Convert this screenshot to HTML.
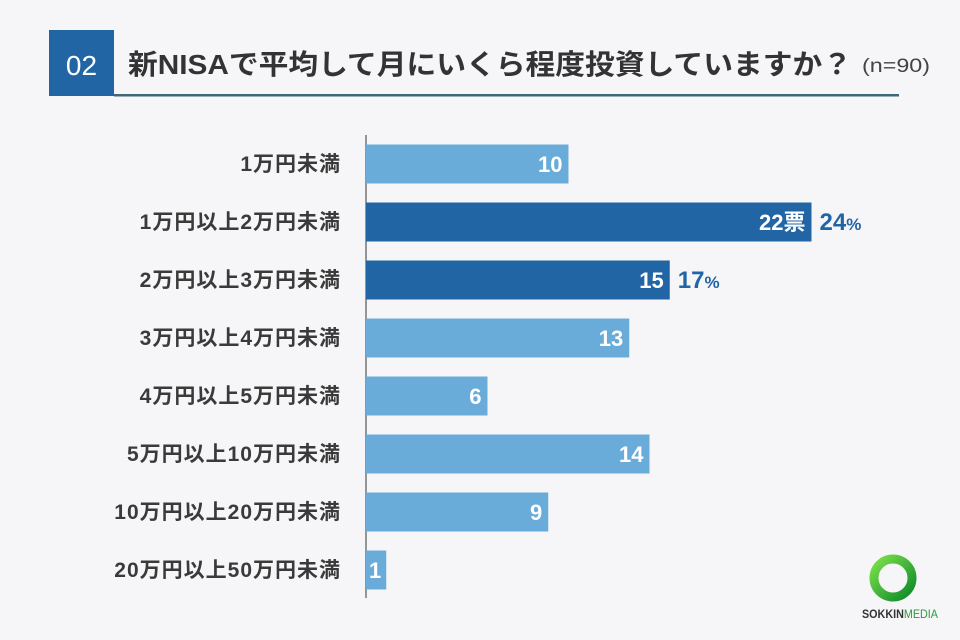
<!DOCTYPE html>
<html><head><meta charset="utf-8"><style>
body{margin:0;background:#f6f6f8;}
#wrap{position:relative;width:960px;height:640px;overflow:hidden;background:#f6f6f8;font-family:"Liberation Sans","Noto Sans CJK JP",sans-serif;}
</style></head><body>
<div id="wrap">
<svg id="svg" width="960" height="640" xmlns="http://www.w3.org/2000/svg">
  <rect x="49" y="30" width="65" height="66" fill="#2265a5"/>
  <text x="81.5" y="75" text-anchor="middle" font-size="28" fill="#fff" font-family="Liberation Sans, Noto Sans CJK JP, sans-serif">02</text>
  <text x="128" y="74" font-size="28" font-weight="bold" fill="#333" font-family="Liberation Sans, Noto Sans CJK JP, sans-serif" textLength="724" lengthAdjust="spacingAndGlyphs">新NISAで平均して月にいくら程度投資していますか？</text>
  <text x="862" y="72" font-size="19" fill="#444" font-family="Liberation Sans, Noto Sans CJK JP, sans-serif" textLength="68" lengthAdjust="spacingAndGlyphs">(n=90)</text>
  <rect x="114" y="94" width="785" height="2.5" fill="#3f6878"/>
  <line x1="366" y1="135" x2="366" y2="598" stroke="#555" stroke-width="1.2"/>
  <g id="bars"></g>
  <g>
    <defs><linearGradient id="lg" x1="0" y1="0" x2="1" y2="1"><stop offset="0" stop-color="#7be04a"/><stop offset="1" stop-color="#0d8a2a"/></linearGradient></defs>
    <circle cx="893" cy="578" r="19" fill="none" stroke="url(#lg)" stroke-width="9"/>
    <text x="862" y="618" font-size="12" font-weight="bold" fill="#333" font-family="Liberation Sans, sans-serif" textLength="76" lengthAdjust="spacingAndGlyphs">SOKKIN<tspan font-weight="normal" fill="#2a9a3a">MEDIA</tspan></text>
  </g>
</svg>
</div>
<script>
const categories=["1万円未満","1万円以上2万円未満","2万円以上3万円未満","3万円以上4万円未満","4万円以上5万円未満","5万円以上10万円未満","10万円以上20万円未満","20万円以上50万円未満"];
const values=[10,22,15,13,6,14,9,1];
const highlight=[false,true,true,false,false,false,false,false];
const percents=["","24","17","","","","",""];
const NS="http://www.w3.org/2000/svg";
const g=document.getElementById('bars');
const x0=366, pxPerUnit=20.25, y0=164, step=58, bh=39;
function xs(v){return x0+v*pxPerUnit;}
function ys(i){return y0+i*step;}
function mk(tag,attrs,txt){const e=document.createElementNS(NS,tag);for(const k in attrs)e.setAttribute(k,attrs[k]);if(txt!==undefined)e.textContent=txt;g.appendChild(e);return e;}
const FF="Liberation Sans, Noto Sans CJK JP, sans-serif";
categories.forEach((c,i)=>{
  const cy=ys(i);
  const lab=mk('text',{x:341,y:cy+7,'text-anchor':'end','font-size':21,'font-weight':'bold',fill:'#3a3a3a','letter-spacing':1,'font-family':FF},c);
  
  
  const r=mk('rect',{x:x0,y:cy-bh/2,width:xs(values[i])-x0,height:bh,fill:highlight[i]?'#2265a5':'#6aacd9'});
  
  
  const vt=mk('text',{x:xs(values[i])-(values[i]<2?5:6),y:cy+8,'text-anchor':'end','font-size':22,'font-weight':'bold',fill:'#fff','font-family':FF},values[i]+(i===1?'票':''));
  
  
  if(percents[i]){
    const pt=mk('text',{x:xs(values[i])+8,y:cy+8,'font-size':24,'font-weight':'bold',fill:'#2265a5','font-family':FF},percents[i]);
    const sp=document.createElementNS(NS,'tspan');sp.setAttribute('font-size','17');sp.textContent='%';pt.appendChild(sp);
    
    
  }
});
</script>
</body></html>
